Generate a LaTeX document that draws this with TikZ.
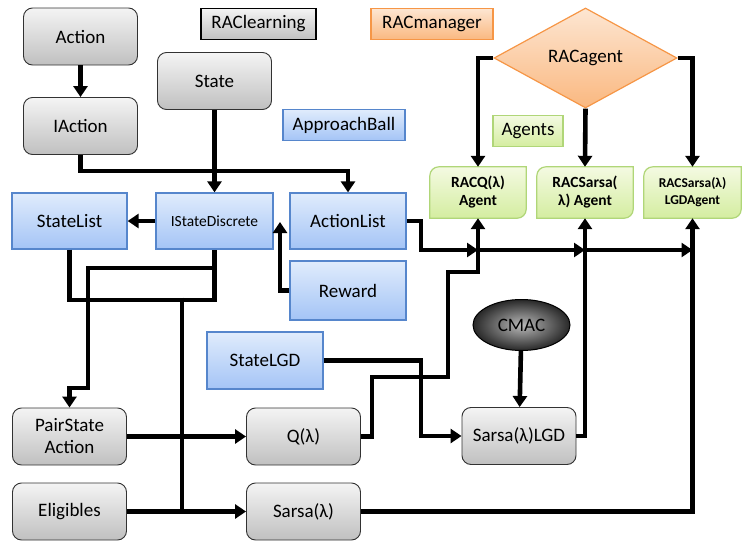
\documentclass[tikz,border=0pt]{standalone}
\usepackage{fontspec}
\setmainfont{Carlito}
\usetikzlibrary{arrows.meta,shapes.geometric}
\pgfdeclarelayer{background}
\pgfsetlayers{background,main}
\definecolor{gtop}{RGB}{244,244,244}
\definecolor{gbot}{RGB}{192,192,192}
\definecolor{gline}{RGB}{50,50,50}
\definecolor{btop}{RGB}{224,236,252}
\definecolor{bbot}{RGB}{164,196,246}
\definecolor{bline}{RGB}{86,134,204}
\definecolor{ntop}{RGB}{244,250,226}
\definecolor{nbot}{RGB}{212,237,160}
\definecolor{nline}{RGB}{176,214,120}
\definecolor{otop}{RGB}{253,230,210}
\definecolor{obot}{RGB}{250,184,128}
\definecolor{oline}{RGB}{246,150,70}
\tikzset{
  lbl/.style={font=\fontsize{19}{22}\selectfont, text=black, align=center, inner sep=0pt},
  graybox/.style={lbl, rounded corners=9pt, draw=gline, line width=0.9pt, top color=gtop, bottom color=gbot, minimum width=114pt, minimum height=57pt},
  bluebox/.style={lbl, draw=bline, line width=1.3pt, top color=btop, bottom color=bbot, minimum width=115pt, minimum height=56pt},
  tagbox/.style={lbl, line width=1.2pt, minimum height=31pt},
  agentbox/.style={font=\fontsize{15.5}{18}\selectfont\bfseries, text=black, align=center, inner sep=0pt, minimum width=96pt, minimum height=51pt},
  agentfill/.style={draw=nline, line width=1.2pt, top color=ntop, bottom color=nbot},
  wire/.style={line width=4.6pt},
  conn/.style={line width=4.6pt, -{Triangle[width=14pt,length=11pt]}}
}
\newcommand\snipround[1]{%
  \begin{pgfonlayer}{background}
  \shade[agentfill] (#1.south west) -- ([yshift=-9pt]#1.north west)
    .. controls ([yshift=-4pt]#1.north west) and ([xshift=4pt]#1.north west) .. ([xshift=9pt]#1.north west)
    -- (#1.north east) -- ([yshift=9pt]#1.south east)
    .. controls ([yshift=4pt]#1.south east) and ([xshift=-4pt]#1.south east) .. ([xshift=-9pt]#1.south east)
    -- cycle;
  \end{pgfonlayer}}
\begin{document}
\begin{tikzpicture}[x=1pt,y=-1pt]
\useasboundingbox (0,0) rectangle (748,541);

% gray class boxes
\node[graybox] (Action) at (80.5,36.5) {Action};
\node[graybox] (IAction) at (80.5,126) {IAction};
\node[graybox] (State) at (214.5,81) {State};
\node[graybox] (PairStateAction) at (69.5,436.5) {PairState\\Action};
\node[graybox] (Eligibles) at (69.5,511.5) {Eligibles};
\node[graybox] (Q) at (303.5,436.5) {Q(λ)};
\node[graybox] (Sarsa) at (303.5,511.5) {Sarsa(λ)};
\node[graybox] (SarsaLGD) at (519,436) {Sarsa(λ)LGD};

% legend tags
\node[tagbox, draw=black, top color=gtop, bottom color=gbot, minimum width=115pt] (RAClearning) at (258.5,24) {RAClearning};
\node[tagbox, draw=oline, top color=otop, bottom color=obot, minimum width=122pt] (RACmanager) at (432,24) {RACmanager};
\node[tagbox, draw=bline, top color=btop, bottom color=bbot, minimum width=122pt] (ApproachBall) at (344,125) {ApproachBall};
\node[tagbox, draw=nline, top color=ntop, bottom color=nbot, minimum width=70pt] (Agents) at (528,131) {Agents};

% blue boxes
\node[bluebox] (StateList) at (69.5,221) {StateList};
\node[bluebox, minimum width=117pt, font=\fontsize{15.5}{18}\selectfont] (IStateDiscrete) at (214.5,221) {IStateDiscrete};
\node[bluebox, minimum width=116pt] (ActionList) at (348,221) {ActionList};
\node[bluebox, minimum width=116pt, minimum height=59pt] (Reward) at (348,290.5) {Reward};
\node[bluebox, minimum width=116pt, minimum height=57pt] (StateLGD) at (265,360.5) {StateLGD};

% manager diamond
\node[lbl, diamond, aspect=1.83, minimum width=183pt, minimum height=100pt, draw=oline, line width=1.2pt, top color=otop, bottom color=obot] (RACagent) at (585.5,58) {RACagent};

% agents
\node[agentbox] (RACQ) at (478,192.5) {RACQ(λ)\\Agent};
\node[agentbox] (RACSarsa) at (585,192.5) {RACSarsa(\\λ) Agent};
\node[agentbox, minimum width=97pt, font=\fontsize{13.5}{17}\selectfont\bfseries] (LGDAgent) at (692.5,192.5) {RACSarsa(λ)\\LGDAgent};
\snipround{RACQ}
\snipround{RACSarsa}
\snipround{LGDAgent}

% CMAC
\node[lbl, ellipse, minimum width=97pt, minimum height=51pt, draw=black, line width=1pt, inner color={rgb,255:red,185;green,185;blue,185}, outer color={rgb,255:red,40;green,40;blue,40}] (CMAC) at (521.5,325) {CMAC};

% junction coordinates
\coordinate (jA) at (80.5,171);
\coordinate (jB) at (214.5,300);
\coordinate (jC) at (216.8,268);
\coordinate (jD) at (88,388);
\coordinate (jE) at (182,297.7);
\coordinate (jF) at (182,514);
\coordinate (rw) at (280,222);
\coordinate (q1) at (372,377);
\coordinate (q2) at (448,272);
\coordinate (a1) at (421,250);
\coordinate (xq) at (a1 -| RACQ.south);
\coordinate (xs) at (a1 -| RACSarsa.south);
\coordinate (xl) at (a1 -| LGDAgent.south);
\coordinate (s1) at (421,436);

% connectors
\draw[conn] (Action) -- (IAction);
\draw[conn] (IAction.south) -- (jA) -| (ActionList.north);
\draw[conn] (State) -- (IStateDiscrete);
\draw[conn] (IStateDiscrete) -- (StateList);
\draw[conn] (Reward.west) -| (rw);
\draw[wire] (StateList.south) |- (jB) -- (IStateDiscrete.south);
\draw[conn] (jC) -| (jD) -| (PairStateAction.north);
\draw[wire] (jE) -- (jF);
\draw[conn] (PairStateAction) -- (Q);
\draw[conn] (Eligibles) -- (Sarsa);
\draw[conn] (Q.east) -| (q1) -| (q2) -| (RACQ.south);
\draw[conn] (ActionList.east) -| (a1) -- (xq);
\draw[conn] (xq) -- (xs);
\draw[conn] (xs) -- (xl);
\draw[conn] (RACagent.west) -| (RACQ.north);
\draw[conn] (RACagent.south) -- (RACSarsa.north);
\draw[conn] (RACagent.east) -| (LGDAgent.north);
\draw[conn] (StateLGD.east) -| (s1) -- (SarsaLGD.west);
\draw[conn] (CMAC) -- (SarsaLGD);
\draw[conn] (SarsaLGD.east) -| (RACSarsa.south);
\draw[conn] (Sarsa.east) -| (LGDAgent.south);
\end{tikzpicture}
\end{document}
